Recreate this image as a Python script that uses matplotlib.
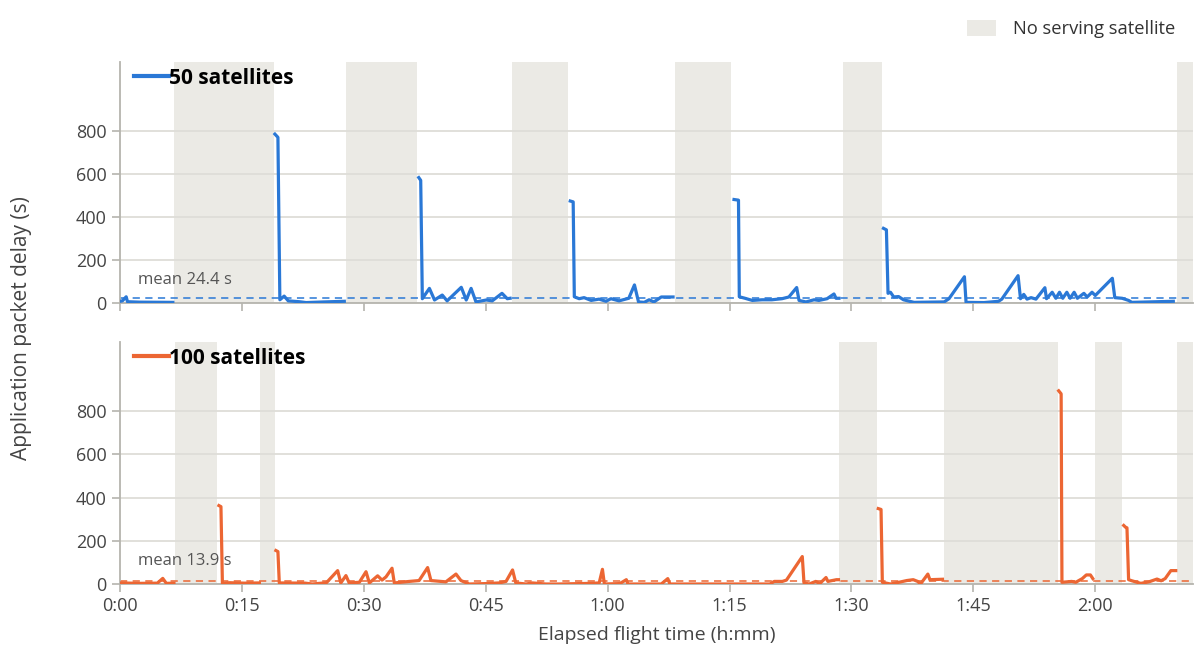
import numpy as np
import matplotlib
matplotlib.use("Agg")
import matplotlib.pyplot as plt
from matplotlib.patches import Patch
from matplotlib.lines import Line2D

plt.rcParams['font.family'] = ['Open Sans', 'DejaVu Sans']

# ---- data (minutes of elapsed flight, delay in seconds) ----
# 50 satellites
t50 = [0, 0.3, 0.76, 0.92, 2.4, 6.5, np.nan,
       19.06, 19.43, 19.67, 20.2, 20.7, 22.07, 22.9, 25.1, 27.6, np.nan,
       36.76, 37.0, 37.2, 38.07, 38.7, 39.65, 40.25, 41.99, 42.6, 43.2, 43.8, 45.07, 45.8, 47.0, 47.65, 48.0, np.nan,
       55.4, 55.76, 55.9, 56.5, 57.1, 57.97, 58.95, 59.8, 60.4, 61.4, 62.6, 63.3, 63.8, 64.5, 65.1, 65.7, 66.6, 68.05, np.nan,
       75.55, 76.1, 76.2, 76.9, 77.8, 79.0, 80.2, 81.45, 82.3, 83.26, 83.55, 84.4, 85.4, 86.0, 87.0, 87.85, 88.1, 88.46, np.nan,
       93.94, 94.3, 94.5, 94.8, 95.2, 95.8, 96.4, 97.7, 99.5, 101.4, 102.0, 103.9, 104.1, 106.3, 108.1, 108.5,
       110.5, 110.8, 111.2, 111.6, 112.1, 112.7, 113.8, 114.0, 114.7, 115.15, 115.6, 116.0, 116.5, 116.9,
       117.4, 117.8, 118.6, 119.0, 119.6, 120.0, 122.1, 122.4, 123.3, 124.1, 124.5, 126.6, 129.6]
d50 = [8, 10, 29, 6, 4, 3, np.nan,
       785, 770, 15, 32, 10, 6, 2, 5, 8, np.nan,
       583, 570, 20, 68, 14, 37, 10, 73, 14, 68, 5, 14, 10, 45, 20, 22, np.nan,
       474, 470, 29, 20, 25, 12, 18, 8, 20, 10, 22, 84, 5, 3, 15, 5, 28, 28, np.nan,
       481, 478, 29, 22, 12, 15, 15, 20, 28, 72, 12, 5, 15, 12, 20, 42, 22, 22, np.nan,
       347, 340, 45, 50, 28, 30, 15, 3, 4, 5, 20, 122, 3, 2, 8, 18,
       127, 20, 40, 18, 25, 18, 71, 20, 50, 22, 50, 22, 50, 22,
       50, 22, 45, 28, 50, 35, 115, 25, 22, 12, 3, 5, 8]
gaps50 = [(6.64, 18.97), (27.75, 36.55), (48.2, 55.07), (68.34, 75.2), (88.9, 93.7), (130.1, 132)]
mean50 = 24.4

# 100 satellites
t100 = [0, 2.4, 4.6, 5.26, 5.7, 6.64, np.nan,
        12.17, 12.42, 12.6, 13.46, 15.3, 17.15, np.nan,
        19.18, 19.43, 19.6, 22.8, 23.67, 25.4, 26.78, 27.17, 27.8, 28.2, 29.45, 30.27, 30.68, 31.7, 32.24,
        32.73, 33.47, 33.75, 35.6, 36.8, 37.85, 38.26, 40.1, 41.34, 41.95, 42.97, 45.0, 46.66, 47.5, 48.3,
        48.7, 49.95, 50.76, 52.4, 54.0, 57.9, 58.96, 59.36, 59.6, 61.5, 62.3, 62.5, 66.6, 67.4, 67.66,
        79.96, 80.5, 81.5, 82.0, 83.95, 84.16, 84.8, 85.6, 86.1, 86.87, 87.1, 88.16, 88.4, np.nan,
        93.3, 93.64, 93.8, 94.8, 95.85, 96.8, 97.6, 98.15, 98.5, 99.4, 99.65, 101.2, np.nan,
        115.5, 115.8, 115.9, 117.1, 117.6, 118.4, 118.9, 119.4, 119.7, np.nan,
        123.5, 123.75, 123.9, 124.1, 124.5, 125.6, 126.6, 127.6, 128.1, 128.6, 129.3, 129.9]
d100 = [5, 3, 4, 26, 3, 4, np.nan,
        363, 358, 3, 6, 4, 5, np.nan,
        155, 150, 5, 4, 0, 6, 62, 5, 39, 5, 8, 57, 5, 38, 18,
        33, 73, 5, 12, 16, 76, 16, 10, 46, 16, 0, 2, 5, 12, 65,
        5, 0, 5, 0, 0, 3, 5, 68, 0, 2, 20, 0, 0, 25, 0,
        0, 12, 12, 18, 127, 5, 0, 12, 2, 30, 12, 20, 20, np.nan,
        349, 345, 8, 0, 8, 16, 20, 12, 0, 46, 20, 22, np.nan,
        894, 880, 8, 12, 8, 25, 42, 42, 25, np.nan,
        271, 262, 260, 20, 15, 3, 10, 23, 15, 25, 62, 62]
gaps100 = [(6.76, 11.96), (17.25, 19.02), (88.5, 93.2), (101.4, 115.4), (120.0, 123.3), (130.1, 132)]
mean100 = 13.9

panels = [("50 satellites", t50, d50, gaps50, mean50, "#2a78d6"),
          ("100 satellites", t100, d100, gaps100, mean100, "#ec6633")]

band_color = "#ebeae5"
grid_color = "#deddd8"
spine_color = "#b5b4ae"
text_color = "#444444"

fig = plt.figure(figsize=(12, 6.57), dpi=100)
ax_top = fig.add_axes([0.1, 0.5388, 0.894, 0.3668])
ax_bot = fig.add_axes([0.1, 0.1111, 0.894, 0.3684])

xticks = np.arange(0, 121, 15)
xlabels = ["%d:%02d" % (m // 60, m % 60) for m in xticks]

for ax, (name, t, d, gaps, mean, col) in zip([ax_top, ax_bot], panels):
    for a, b in gaps:
        ax.axvspan(a, b, color=band_color, lw=0, zorder=0)
    ax.plot(t, d, color=col, lw=2.3, zorder=3, solid_joinstyle='round')
    ax.axhline(mean, color=col, lw=1.3, ls=(0, (4, 3)), alpha=0.85, zorder=2)
    ax.text(2.2, 105, "mean %.1f s" % mean, fontsize=12, color="#555555", va="center", zorder=4)
    ax.set_xlim(0, 132)
    ax.set_ylim(0, 1120)
    ax.set_yticks([0, 200, 400, 600, 800])
    ax.set_xticks(xticks)
    ax.grid(axis='y', color=grid_color, lw=1.3, zorder=1)
    ax.set_axisbelow(True)
    for s in ['top', 'right']:
        ax.spines[s].set_visible(False)
    for s in ['left', 'bottom']:
        ax.spines[s].set_color(spine_color)
        ax.spines[s].set_linewidth(1.3)
    ax.tick_params(axis='both', colors=spine_color, labelcolor=text_color, labelsize=13, length=6, width=1.2)
    leg = ax.legend([Line2D([0], [0], color=col, lw=3)], [name], loc='upper left', frameon=False,
                    handlelength=1.7, handletextpad=0.0, borderaxespad=0.1, bbox_to_anchor=(0.003, 1.02),
                    prop={'weight': 'bold', 'size': 15})
    for txt in leg.get_texts():
        txt.set_color('black')

ax_top.set_xticklabels([])
ax_bot.set_xticklabels(xlabels)
ax_bot.set_xlabel("Elapsed flight time (h:mm)", fontsize=14, color=text_color, labelpad=8)
fig.text(0.018, 0.5, "Application packet delay (s)", rotation=90, fontsize=15, color=text_color,
         ha='center', va='center')

fig.legend(handles=[Patch(facecolor=band_color, edgecolor='none')], labels=["No serving satellite"],
           loc='upper right', bbox_to_anchor=(0.993, 0.995), frameon=False, fontsize=13.2,
           handlelength=1.6, handleheight=1.0, handletextpad=0.9, labelcolor="#333333")

fig.savefig("out.png", dpi=100, facecolor='white')
